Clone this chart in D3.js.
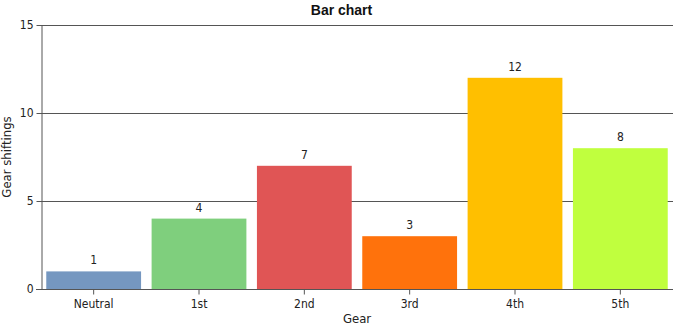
<!DOCTYPE html>
<html>
<head>
<meta charset="utf-8">
<script src="https://cdn.jsdelivr.net/npm/d3@7"></script>
<style>
  body { margin: 0; background: #fff; }
  text { font-family: "DejaVu Sans Condensed", "DejaVu Sans", sans-serif; fill: #222; }
  text.title { font-family: "Liberation Sans", Arial, sans-serif; font-weight: bold; fill: #111; }
</style>
</head>
<body>
<div id="chart"></div>
<script>
// data
const gears = ["Neutral", "1st", "2nd", "3rd", "4th", "5th"];
const shifts = [1, 4, 7, 3, 12, 8];
const colors = ["#7597c0", "#7fcf7d", "#e05555", "#ff720c", "#ffbf00", "#c0ff3e"];
const yTicks = [0, 5, 10, 15];

const width = 683,
  height = 332,
  margin = { top: 25, right: 10, bottom: 43, left: 41 };

const svg = d3.select("#chart")
  .append("svg")
  .attr("width", width)
  .attr("height", height);

const x = d3.scaleBand()
  .domain(gears)
  .range([margin.left, width - margin.right])
  .paddingInner(0.1)
  .paddingOuter(0.05);

const y = d3.scaleLinear()
  .domain([0, 15])
  .range([height - margin.bottom, margin.top]);

// grid lines
svg.append("g")
  .selectAll("line")
  .data(yTicks.filter(d => d > 0))
  .join("line")
  .attr("x1", margin.left)
  .attr("x2", width - margin.right)
  .attr("y1", d => Math.round(y(d)) + 0.5)
  .attr("y2", d => Math.round(y(d)) + 0.5)
  .attr("stroke", "#555");

// bars
svg.append("g")
  .selectAll("rect")
  .data(shifts)
  .join("rect")
  .attr("x", (d, i) => x(gears[i]))
  .attr("y", d => y(d))
  .attr("width", x.bandwidth())
  .attr("height", d => y(0) - y(d))
  .attr("fill", (d, i) => colors[i]);

// value labels
svg.append("g")
  .selectAll("text")
  .data(shifts)
  .join("text")
  .attr("x", (d, i) => x(gears[i]) + x.bandwidth() / 2)
  .attr("y", d => y(d) - 7)
  .attr("text-anchor", "middle")
  .attr("font-size", 12)
  .text(d => d);

// axes
const yAxis = svg.append("g")
  .attr("transform", `translate(${margin.left + 0.5},0)`)
  .call(d3.axisLeft(y).tickValues(yTicks).tickSize(5).tickSizeOuter(0));

const xAxis = svg.append("g")
  .attr("transform", `translate(0,${Math.round(y(0)) + 0.5})`)
  .call(d3.axisBottom(x).tickSize(5).tickSizeOuter(0));

[yAxis, xAxis].forEach(g => {
  g.selectAll(".domain").attr("stroke", "#555");
  g.selectAll(".tick line").attr("stroke", "#555");
  g.selectAll(".tick text")
    .attr("font-size", 12)
    .attr("fill", "#222");
});
// extend x baseline left to meet the 0 tick
xAxis.select(".domain").attr("d", `M${margin.left - 5},0H${width - margin.right}`);
xAxis.selectAll(".tick text").attr("dy", "0.9em");

// titles
svg.append("text")
  .attr("class", "title")
  .attr("x", width / 2)
  .attr("y", 15)
  .attr("text-anchor", "middle")
  .attr("font-size", 14)
  .text("Bar chart");

svg.append("text")
  .attr("x", (margin.left + width - margin.right) / 2)
  .attr("y", 323)
  .attr("text-anchor", "middle")
  .attr("font-size", 13)
  .text("Gear");

svg.append("text")
  .attr("transform", `translate(11,${(margin.top + height - margin.bottom) / 2}) rotate(-90)`)
  .attr("text-anchor", "middle")
  .attr("font-size", 13)
  .text("Gear shiftings");
</script>
</body>
</html>
